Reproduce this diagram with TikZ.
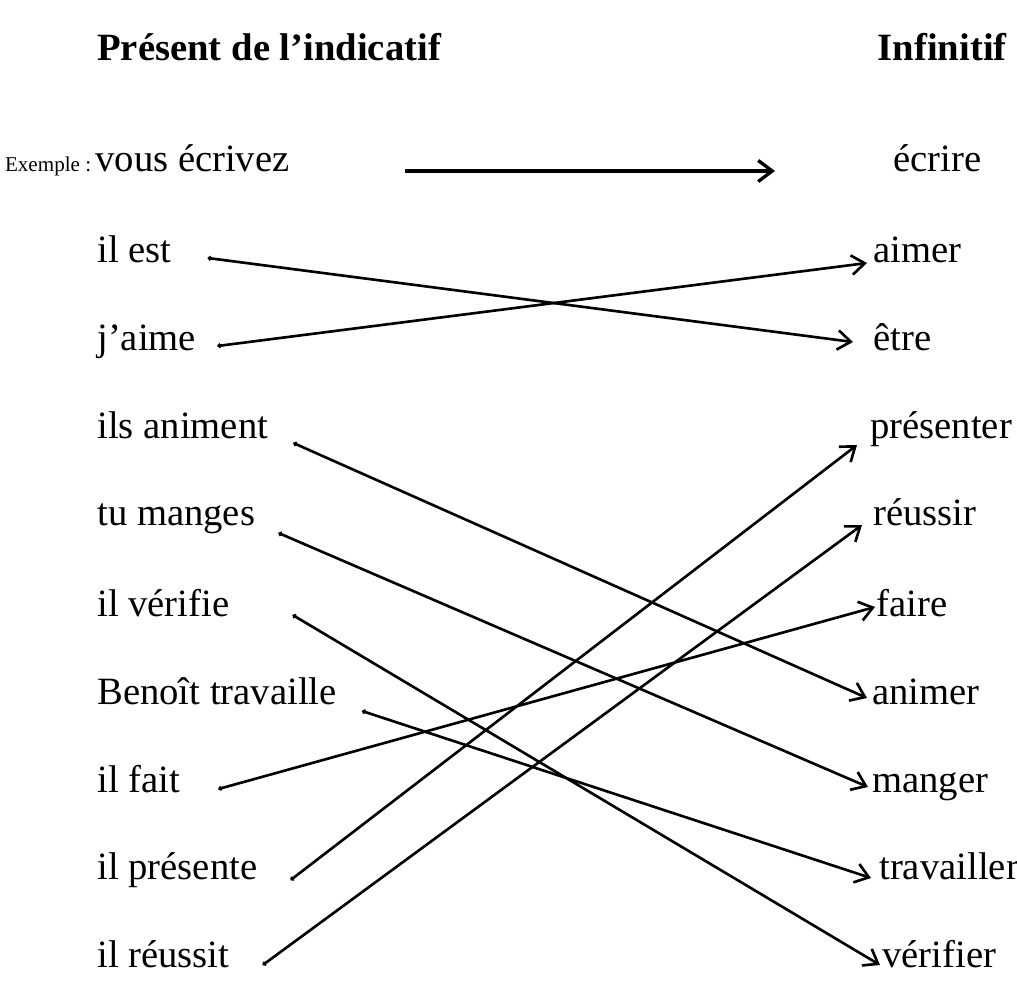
\documentclass[tikz,border=0pt]{standalone}
\usepackage{fontspec}
\setmainfont{Liberation Serif}
\usetikzlibrary{arrows.meta}

\begin{document}
\begin{tikzpicture}[x=0.02cm, y=-0.02cm,
  word/.style={anchor=base west, inner sep=0pt, font=\fontsize{22}{26}\selectfont},
  title/.style={word, font=\fontsize{22}{26}\selectfont\bfseries},
  small/.style={anchor=base east, inner sep=0pt, font=\fontsize{12}{14}\selectfont},
  conn/.style={{Circle[length=2.5pt]}-{Straight Barb[length=7.5pt, width=11pt]}, line width=1.5pt},
  exconn/.style={-{Straight Barb[length=8pt, width=12pt]}, line width=1.9pt},
]
\useasboundingbox (0,0) rectangle (1017,981);

% =================== titles ===================
\node[title] (ptitle) at (97,60) {Présent de l’indicatif};
\node[title, anchor=base east] (ititle) at (1007,60) {Infinitif};

% =================== LEFT: present ===================
\node[word] (vous) at (95,171) {vous écrivez};
\node[small] (exemple) at ([xshift=-2pt]vous.base west) {Exemple :};
\node[word] (est) at (97,262) {il est};
\node[word] (jaime) at (97,350) {j’aime};
\node[word] (animent) at (97,438) {ils animent};
\node[word] (manges) at (97,525) {tu manges};
\node[word] (verifie) at (97,616) {il vérifie};
\node[word] (travaille) at (97,704) {Benoît travaille};
\node[word] (fait) at (97,792) {il fait};
\node[word] (presente) at (97,879) {il présente};
\node[word] (reussit) at (97,967) {il réussit};

% =================== RIGHT: infinitive ===================
\node[word] (ecrire) at (893,171) {écrire};
\node[word] (aimer) at (873,262) {aimer};
\node[word] (etre) at (873,350) {être};
\node[word] (presenter) at (870,438) {présenter};
\node[word] (reussir) at (873,525) {réussir};
\node[word] (faire) at (876,616) {faire};
\node[word] (animer) at (872,704) {animer};
\node[word] (manger) at (872,792) {manger};
\node[word] (travailler) at (879,879) {travailler};
\node[word] (verifier) at (882,967) {vérifier};

% example
\draw[exconn] ([shift={(115,0)}]vous.base east) -- ([shift={(-118,0)}]ecrire.base west);

% matches
\draw[conn] ([shift={(36,-4)}]est.base east) -- ([shift={(-20,-8)}]etre.base west);
\draw[conn] ([shift={(21,-4)}]jaime.base east) -- ([shift={(-6,1)}]aimer.base west);
\draw[conn] ([shift={(25,5)}]animent.base east) -- ([shift={(-5,-6)}]animer.base west);
\draw[conn] ([shift={(23,8)}]manges.base east) -- ([shift={(-4,-5)}]manger.base west);
\draw[conn] ([shift={(63,-1)}]verifie.base east) -- ([shift={(-2,-2)}]verifier.base west);
\draw[conn] ([shift={(25,7)}]travaille.base east) -- ([shift={(-8,-1)}]travailler.base west);
\draw[conn] ([shift={(38,-3)}]fait.base east) -- ([shift={(-1,-9)}]faire.base west);
\draw[conn] ([shift={(33,1)}]presente.base east) -- ([shift={(-13,7)}]presenter.base west);
\draw[conn] ([shift={(33,-2)}]reussit.base east) -- ([shift={(-11,0)}]reussir.base west);

\end{tikzpicture}
\end{document}
